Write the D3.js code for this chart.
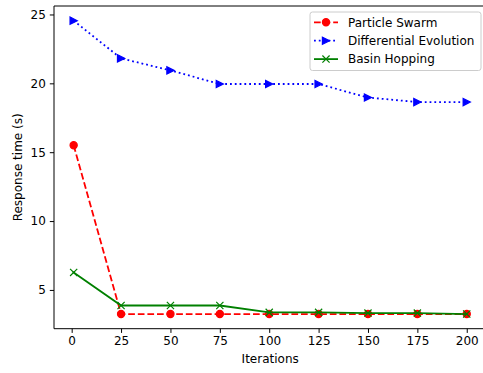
<!DOCTYPE html>
<html>
<head>
<meta charset="utf-8">
<script src="https://cdn.jsdelivr.net/npm/d3@7"></script>
<style>
  body { margin: 0; background: #fff; }
  text { font-family: "DejaVu Sans", sans-serif; fill: #000; }
</style>
</head>
<body>
<div id="chart"></div>
<script>
// data
const iterations = [1, 25, 50, 75, 100, 125, 150, 175, 200];
const particleSwarm = [15.5, 3.25, 3.25, 3.25, 3.25, 3.25, 3.25, 3.25, 3.25];
const differentialEvolution = [24.55, 21.81, 20.94, 19.95, 19.95, 19.95, 18.97, 18.64, 18.64];
const basinHopping = [6.27, 3.87, 3.87, 3.87, 3.37, 3.37, 3.32, 3.32, 3.25];
const xTicks = [0, 25, 50, 75, 100, 125, 150, 175, 200];
const yTicks = [5, 10, 15, 20, 25];

const series = [
  { name: 'Particle Swarm', values: particleSwarm, color: 'red', dash: '6.7,2.9', marker: 'circle' },
  { name: 'Differential Evolution', values: differentialEvolution, color: 'blue', dash: '1.8,3', marker: 'triangle' },
  { name: 'Basin Hopping', values: basinHopping, color: 'green', dash: null, marker: 'x' },
];

const width = 483, height = 373;
const plot = { left: 54, top: 6, right: 486.4, bottom: 328.7 };

const svg = d3.select('#chart').append('svg')
  .attr('width', width)
  .attr('height', height);

svg.append('rect').attr('width', width).attr('height', height).attr('fill', '#fff');

// matplotlib style 5% margins
const xMin = d3.min(iterations), xMax = d3.max(iterations);
const xPad = (xMax - xMin) * 0.05;
const allY = series.flatMap(s => s.values);
const yMin = d3.min(allY), yMax = d3.max(allY);
const yPad = (yMax - yMin) * 0.05;

const x = d3.scaleLinear().domain([xMin - xPad, xMax + xPad]).range([plot.left, plot.right]);
const y = d3.scaleLinear().domain([yMin - yPad, yMax + yPad]).range([plot.bottom, plot.top]);

// axes
const xAxis = svg.append('g')
  .attr('transform', `translate(0,${plot.bottom})`)
  .call(d3.axisBottom(x).tickValues(xTicks).tickSize(4.2).tickPadding(4).tickFormat(d3.format('d')));
const yAxis = svg.append('g')
  .attr('transform', `translate(${plot.left},0)`)
  .call(d3.axisLeft(y).tickValues(yTicks).tickSize(4.2).tickPadding(4).tickFormat(d3.format('d')));

[xAxis, yAxis].forEach(a => {
  a.select('.domain').remove();
  a.selectAll('.tick line').attr('stroke', '#000').attr('stroke-width', 1);
  a.selectAll('.tick text').attr('font-size', 12).attr('font-family', '"DejaVu Sans", sans-serif').attr('fill', '#000');
});

// spines
const spine = svg.append('g').attr('fill', 'none').attr('stroke', '#000').attr('stroke-width', 1);
spine.append('line').attr('x1', plot.left).attr('x2', plot.left).attr('y1', plot.top).attr('y2', plot.bottom);
spine.append('line').attr('x1', plot.left).attr('x2', plot.right).attr('y1', plot.bottom).attr('y2', plot.bottom);
spine.append('line').attr('x1', plot.left).attr('x2', plot.right).attr('y1', plot.top).attr('y2', plot.top);
spine.append('line').attr('x1', plot.right).attr('x2', plot.right).attr('y1', plot.top).attr('y2', plot.bottom);

// axis labels
svg.append('text')
  .attr('x', (plot.left + plot.right) / 2)
  .attr('y', 363)
  .attr('text-anchor', 'middle')
  .attr('font-size', 12)
  .text('Iterations');

svg.append('text')
  .attr('transform', `translate(22,${(plot.top + plot.bottom) / 2}) rotate(-90)`)
  .attr('text-anchor', 'middle')
  .attr('font-size', 12)
  .text('Response time (s)');

function drawMarker(g, type, color) {
  const r = 3.6;
  if (type === 'circle') {
    g.append('circle').attr('r', r).attr('fill', color).attr('stroke', color).attr('stroke-width', 1.2);
  } else if (type === 'triangle') {
    g.append('path').attr('d', `M${r},0L${-r},${-r}L${-r},${r}Z`)
      .attr('fill', color).attr('stroke', color).attr('stroke-width', 1.2).attr('stroke-linejoin', 'miter');
  } else {
    g.append('path').attr('d', `M${-r},${-r}L${r},${r}M${-r},${r}L${r},${-r}`)
      .attr('fill', 'none').attr('stroke', color).attr('stroke-width', 1.2);
  }
}

const clip = svg.append('clipPath').attr('id', 'plotclip')
  .append('rect').attr('x', plot.left).attr('y', plot.top)
  .attr('width', plot.right - plot.left).attr('height', plot.bottom - plot.top);

const line = d3.line().x(d => x(d[0])).y(d => y(d[1]));
const marks = svg.append('g').attr('clip-path', 'url(#plotclip)');

series.forEach(s => {
  const pts = iterations.map((it, i) => [it, s.values[i]]);
  const g = marks.append('g');
  g.append('path')
    .datum(pts)
    .attr('d', line)
    .attr('fill', 'none')
    .attr('stroke', s.color)
    .attr('stroke-width', 1.8)
    .attr('stroke-dasharray', s.dash)
    .attr('stroke-linecap', s.dash ? 'butt' : 'square');
  g.selectAll('.m').data(pts).enter().append('g')
    .attr('transform', d => `translate(${x(d[0])},${y(d[1])})`)
    .each(function () { drawMarker(d3.select(this), s.marker, s.color); });
});

// legend
const legend = svg.append('g');
legend.append('rect')
  .attr('x', 310).attr('y', 12).attr('width', 171).attr('height', 58.5)
  .attr('rx', 2.5)
  .attr('fill', '#fff').attr('fill-opacity', 0.8)
  .attr('stroke', '#ccc').attr('stroke-width', 1);

series.forEach((s, i) => {
  const cy = 22.3 + i * 18.4;
  const row = legend.append('g');
  row.append('line')
    .attr('x1', 314).attr('x2', 338).attr('y1', cy).attr('y2', cy)
    .attr('stroke', s.color).attr('stroke-width', 1.8)
    .attr('stroke-dasharray', s.dash);
  const mg = row.append('g').attr('transform', `translate(326,${cy})`);
  drawMarker(mg, s.marker, s.color);
  row.append('text')
    .attr('x', 348).attr('y', cy).attr('dy', '0.36em')
    .attr('font-size', 12)
    .text(s.name);
});
</script>
</body>
</html>
